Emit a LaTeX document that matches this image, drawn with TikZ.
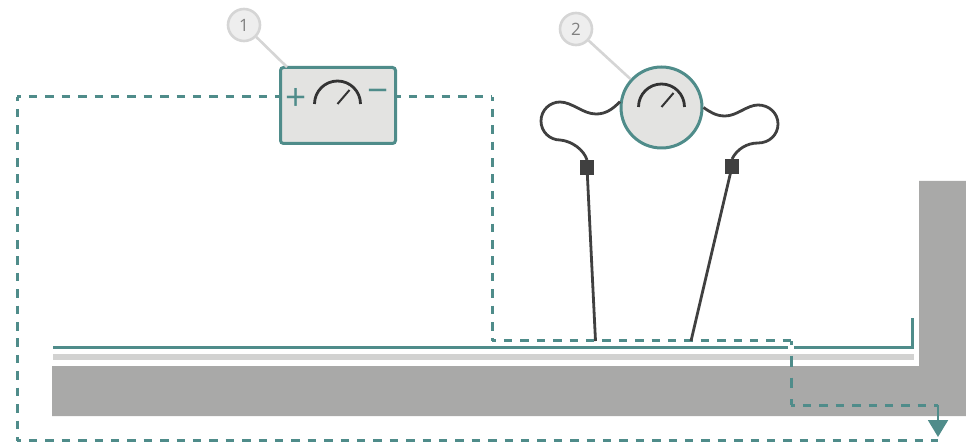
\documentclass[tikz,border=0pt]{standalone}
\usepackage{fontspec}
\setmainfont{Open Sans}
\usetikzlibrary{arrows.meta,calc,positioning}
\definecolor{tealline}{RGB}{79,140,138}
\definecolor{wallgray}{RGB}{169,169,168}
\definecolor{stripgray}{RGB}{210,210,209}
\definecolor{meterfill}{RGB}{227,227,225}
\definecolor{wiregray}{RGB}{64,64,64}
\definecolor{callfill}{RGB}{238,238,238}
\definecolor{callline}{RGB}{213,213,213}

\begin{document}
\begin{tikzpicture}[x=1pt,y=-1pt,
    current/.style={draw=tealline,line width=3pt,dash pattern=on 8.5pt off 7.9pt,dash phase=4.5pt},
    plate/.style={draw=tealline,line width=3pt},
    wire/.style={draw=wiregray,line width=2.8pt},
    leader/.style={draw=callline,line width=2.6pt},
    callout/.style={circle,draw=callline,fill=callfill,line width=2.6pt,minimum size=32pt,inner sep=0pt,text=gray,font=\fontsize{17}{20}\selectfont},
    probe/.style={rectangle,fill=wiregray,minimum size=14.5pt,inner sep=0pt},
    sign/.style={text=tealline,inner sep=0pt,font=\fontsize{37}{37}\selectfont}]
  \useasboundingbox (0,0) rectangle (966,443);
  \fill[wallgray] (919,181)--(966,181)--(966,416)--(52,416)--(52,366)--(919,366)--cycle;
  \fill[stripgray] (53,354) rectangle (914,360);
  \draw[plate] (53,348)--(788,348);
  \draw[plate] (794,348)--(912,348)--(912,318);

  \node[rectangle,rounded corners=3pt,draw=tealline,fill=meterfill,line width=3pt,minimum width=115pt,minimum height=76pt,inner sep=0pt] (source) at (338,105.5) {};
  \node[circle,draw=tealline,fill=meterfill,line width=3pt,minimum size=81pt,inner sep=0pt] (meter) at (661.5,107.5) {};
  \node[probe] (probeL) at (587,167.5) {};
  \node[probe] (probeR) at (732,166.5) {};
  \node[callout] (callA) at (244,25) {1};
  \node[callout] (callB) at (576,29) {2};
  \node[sign] (plus) at (296.5,99) {+};
  \node[sign] (minus) at (378,96.5) {−};
  \coordinate (tipL) at (595.5,341);
  \coordinate (tipR) at (691,341);
  \coordinate (sourcetop) at (287,67);
  \coordinate (sink) at (938,437);
  \coordinate (outA) at (17,97);
  \coordinate (outB) at (17,440.5);
  \coordinate (outC) at (938,440.5);
  \coordinate (retA) at (492,97);
  \coordinate (retB) at (492,341);
  \coordinate (retC) at (791,341);
  \coordinate (retD) at (791,405);
  \coordinate (retE) at (938,405);

  \foreach \a/\b in {outA/outB,outB/outC,retA/retB,retB/retC,retD/retE}{
    \draw[current] (\a)--(\b);
  }
  \draw[current] (outA)--(source.west|-outA);
  \draw[current] (source.east|-outA)--(retA);
  \draw[current,dash pattern=on 10.5pt off 11pt,dash phase=6.5pt] (retC)--(retD);
  \draw[draw=tealline,line width=2pt,-{Triangle[length=17pt,width=20pt,fill=tealline]}] (retE)--(sink);
  \draw[leader] (callA)--(sourcetop);
  \draw[leader] (callB)--(meter);
  \draw[wire] (probeL)--(tipL);
  \draw[wire] (probeR)--(tipR);
  \draw[wire] (meter.172) .. controls (612,110) and (605,114) .. (596,114)
    .. controls (583,114) and (572,102) .. (560,102)
    .. controls (550,102) and (541,110) .. (541,121)
    .. controls (541,132) and (550,140) .. (560,140)
    .. controls (572,141) and (584,150) .. (probeL.north);
  \draw[wire] (meter.east) .. controls (710,112) and (716,116) .. (725,116)
    .. controls (737,116) and (747,105) .. (758,105)
    .. controls (769,105) and (778,113) .. (778,124)
    .. controls (778,135) and (769,143) .. (758,143)
    .. controls (747,143) and (737,149) .. (probeR.north);
  \foreach \cx/\cy in {337.5/104,661.5/107}{
    \draw[line width=2.8pt,draw=black!80] (\cx-23,\cy) arc[start angle=180,end angle=0,radius=23pt];
    \draw[line width=2pt,draw=black!80] (\cx,\cy)--(\cx+12,\cy-14);
  }
\end{tikzpicture}
\end{document}
